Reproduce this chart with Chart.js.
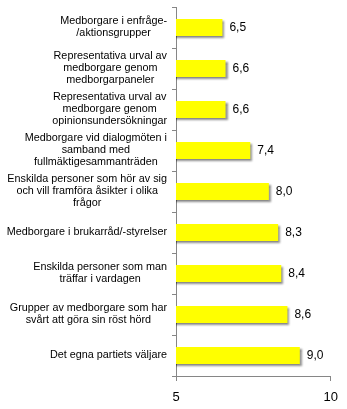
<!DOCTYPE html>
<html>
<head>
<meta charset="utf-8">
<script src="https://cdn.jsdelivr.net/npm/chart.js@4"></script>
<style>
  html, body { margin: 0; padding: 0; background: #fff; }
  #wrap { width: 347px; height: 409px; position: relative; }
</style>
</head>
<body>
<div id="wrap"><canvas id="chart"></canvas></div>
<script>
'use strict';

// ── Data ──────────────────────────────────────────────
const categories = [
  ['Medborgare i enfråge-', '/aktionsgrupper'],
  ['Representativa urval av', 'medborgare genom', 'medborgarpaneler'],
  ['Representativa urval av', 'medborgare genom', 'opinionsundersökningar'],
  ['Medborgare vid dialogmöten i', 'samband med', 'fullmäktigesammanträden'],
  ['Enskilda personer som hör av sig', 'och vill framföra åsikter i olika', 'frågor'],
  ['Medborgare i brukarråd/-styrelser'],
  ['Enskilda personer som man', 'träffar i vardagen'],
  ['Grupper av medborgare som har', 'svårt att göra sin röst hörd'],
  ['Det egna partiets väljare']
];
const values = [6.5, 6.6, 6.6, 7.4, 8.0, 8.3, 8.4, 8.6, 9.0];
const xTicks = [5, 10];

const FONT = 'Liberation Sans, Arial, sans-serif';

// bar shadow
const shadowPlugin = {
  id: 'barShadow',
  beforeDatasetDraw(chart) {
    const ctx = chart.ctx;
    ctx.save();
    ctx.shadowColor = 'rgba(0,0,0,0.45)';
    ctx.shadowBlur = 2;
    ctx.shadowOffsetX = 2;
    ctx.shadowOffsetY = 2;
  },
  afterDatasetDraw(chart) {
    chart.ctx.restore();
  }
};

// value labels + category labels (lines centred, block right-aligned)
const labelPlugin = {
  id: 'labels',
  afterDatasetsDraw(chart) {
    const ctx = chart.ctx;
    const meta = chart.getDatasetMeta(0);
    ctx.save();
    ctx.fillStyle = '#000';
    ctx.font = '12px ' + FONT;
    ctx.textAlign = 'left';
    ctx.textBaseline = 'middle';
    meta.data.forEach((bar, i) => {
      ctx.fillText(values[i].toFixed(1).replace('.', ','), bar.x + 7, bar.y);
    });

    const yScale = chart.scales.y;
    const right = yScale.right - 9;
    const lh = 12;
    ctx.font = '10.8px ' + FONT;
    ctx.textAlign = 'center';
    categories.forEach((lines, i) => {
      const cy = yScale.getPixelForTick(i);
      const w = Math.max(...lines.map(l => ctx.measureText(l).width));
      const cx = right - w / 2;
      const y0 = cy - (lines.length - 1) * lh / 2;
      lines.forEach((l, k) => ctx.fillText(l, cx, y0 + k * lh));
    });
    ctx.restore();
  }
};

new Chart(document.getElementById('chart'), {
  type: 'bar',
  data: {
    labels: categories,
    datasets: [{
      data: values,
      backgroundColor: '#FFFF00',
      borderWidth: 0,
      barPercentage: 0.42,
      categoryPercentage: 1
    }]
  },
  options: {
    indexAxis: 'y',
    responsive: true,
    maintainAspectRatio: false,
    animation: false,
    layout: { padding: { top: 7, right: 16, bottom: 0, left: 0 } },
    plugins: { legend: { display: false }, tooltip: { enabled: false } },
    scales: {
      x: {
        min: 5, max: 10,
        afterBuildTicks: s => { s.ticks = xTicks.map(v => ({ value: v })); },
        grid: { drawOnChartArea: false, drawTicks: true, tickLength: 5, color: '#868686' },
        border: { color: '#868686' },
        ticks: { color: '#000', font: { family: FONT, size: 13 }, padding: 9 },
        afterFit: s => { s.height = 33; }
      },
      y: {
        grid: { drawOnChartArea: false, drawTicks: true, tickLength: 4, color: '#868686', offset: true },
        border: { color: '#868686' },
        ticks: { display: false },
        afterFit: s => { s.width = 176; }
      }
    }
  },
  plugins: [shadowPlugin, labelPlugin]
});
</script>
</body>
</html>
